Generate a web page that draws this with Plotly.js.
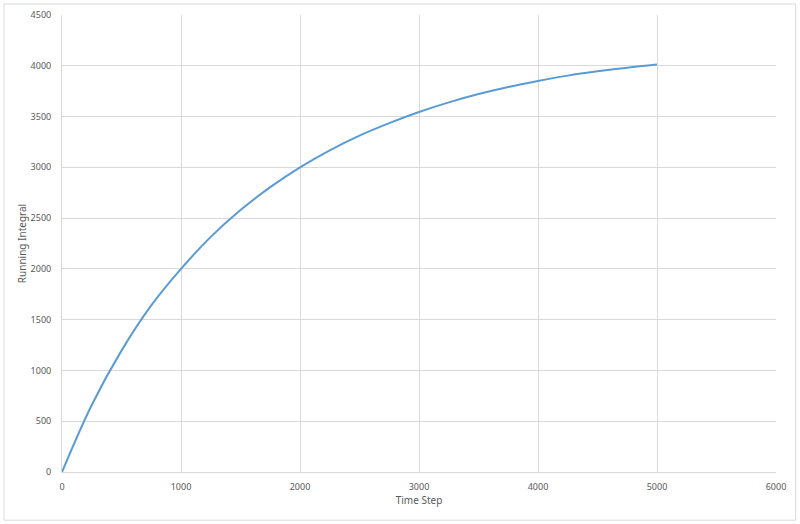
<!DOCTYPE html>
<html>
<head>
<meta charset="utf-8">
<script src="https://cdn.plot.ly/plotly-3.0.1.min.js"></script>
<style>html,body{margin:0;padding:0;background:#fff;}</style>
</head>
<body>
<div id="chart" style="width:800px;height:524px;"></div>
<script>
const timeStep = [0, 250, 500, 750, 1000, 1250, 1500, 1750, 2000, 2250, 2500, 2750, 3000, 3250, 3500, 3750, 4000, 4250, 4500, 4750, 5000];
const runningIntegral = [0, 660, 1195, 1640, 2000, 2315, 2580, 2805, 3000, 3168, 3313, 3436, 3545, 3640, 3722, 3792, 3851, 3903, 3945, 3981, 4012];

const trace = {
  x: timeStep,
  y: runningIntegral,
  type: 'scatter',
  mode: 'lines',
  line: {color: '#5b9bd5', width: 2, shape: 'spline', smoothing: 1},
  hoverinfo: 'none'
};

const font = {family: 'Noto Sans, DejaVu Sans, sans-serif', size: 9, color: '#595959'};

const layout = {
  width: 800, height: 524,
  margin: {l: 62, r: 24, t: 15, b: 52},
  paper_bgcolor: '#ffffff', plot_bgcolor: '#ffffff',
  showlegend: false,
  font: font,
  xaxis: {
    range: [0, 6000], dtick: 1000, tick0: 0,
    showgrid: true, gridcolor: '#d9d9d9', gridwidth: 1,
    zeroline: false, showline: true, linecolor: '#d9d9d9', linewidth: 1,
    ticks: '', ticklabelstandoff: 6,
    tickfont: font,
    title: {text: 'Time Step', font: {family: font.family, size: 10, color: '#595959'}, standoff: 5}
  },
  yaxis: {
    range: [0, 4500], dtick: 500, tick0: 0,
    showgrid: true, gridcolor: '#d9d9d9', gridwidth: 1,
    zeroline: false, showline: true, linecolor: '#d9d9d9', linewidth: 1,
    ticks: '', ticklabelstandoff: 8,
    tickfont: font,
    title: {text: 'Running Integral', font: {family: font.family, size: 10, color: '#595959'}, standoff: 2}
  },
  shapes: [{
    type: 'rect', xref: 'paper', yref: 'paper',
    x0: -0.0812, x1: 1.0275, y0: -0.1055, y1: 1.024,
    line: {color: '#d9d9d9', width: 1}, fillcolor: 'rgba(0,0,0,0)', layer: 'below'
  }]
};

Plotly.newPlot('chart', [trace], layout, {staticPlot: true, displayModeBar: false});
</script>
</body>
</html>
